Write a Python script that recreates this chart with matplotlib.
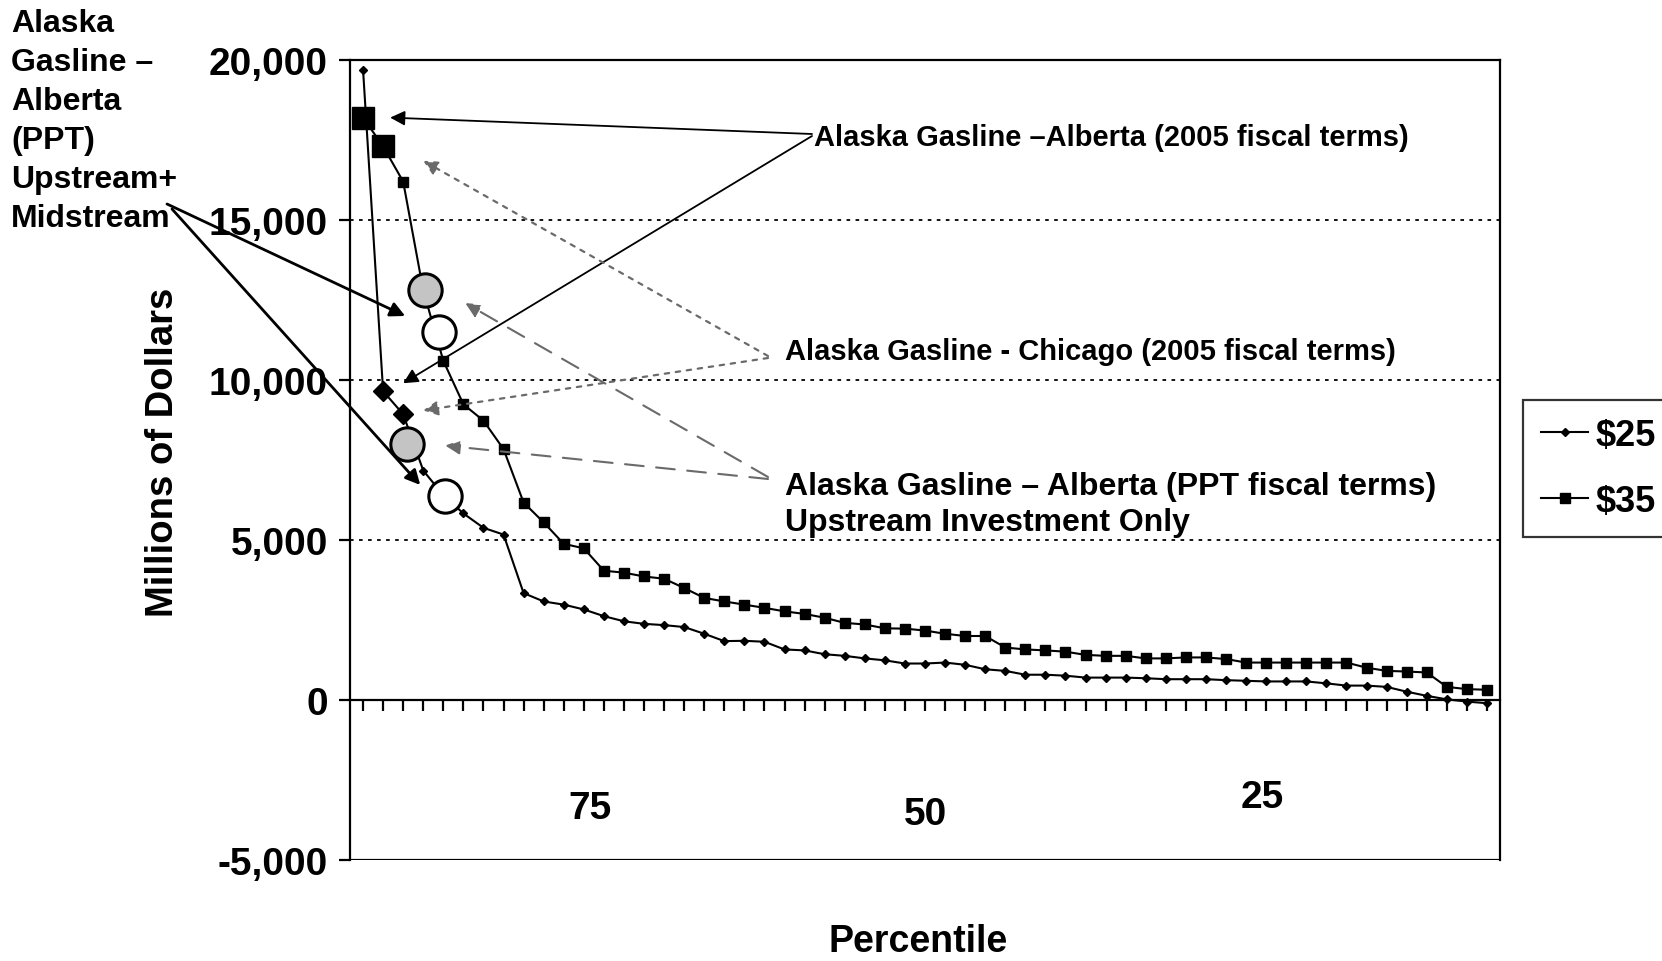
import matplotlib
matplotlib.use("Agg")
import matplotlib.pyplot as plt
import numpy as np

# ---------------- data ----------------
series_labels = ["$25", "$35"]
price25 = [19700, 9650, 8930, 7170, 6400, 5830, 5380, 5170, 3340, 3080,
           2980, 2830, 2620, 2460, 2380, 2340, 2280, 2070, 1840, 1850,
           1820, 1580, 1550, 1430, 1380, 1300, 1240, 1140, 1140, 1170,
           1100, 960, 910, 790, 790, 760, 700, 700, 700, 680,
           650, 650, 650, 620, 600, 580, 580, 580, 520, 450,
           450, 410, 260, 130, 20, -50, -100]
price35 = [18200, 17300, 16200, 12800, 10600, 9240, 8730, 7840, 6170, 5550,
           4880, 4740, 4040, 3980, 3860, 3790, 3500, 3190, 3080, 2980,
           2880, 2770, 2690, 2570, 2410, 2360, 2240, 2230, 2170, 2070,
           2000, 2000, 1640, 1580, 1550, 1510, 1410, 1380, 1380, 1300,
           1300, 1330, 1330, 1280, 1170, 1170, 1170, 1170, 1170, 1170,
           1010, 910, 890, 860, 410, 340, 320]
idx = np.arange(len(price25))

# highlighted cases
big_square_idx = [0, 1]            # on $35 series
big_diamond_idx = [1, 2]           # on $25 series
gray_circle_x = [3.1, 2.2]
gray_circle_y = [12800, 8000]
white_circle_x = [3.8, 4.1]
white_circle_y = [11500, 6380]

y_ticks = [-5000, 0, 5000, 10000, 15000, 20000]
y_ticklabels = ["-5,000", "0", "5,000", "10,000", "15,000", "20,000"]
pct_labels = ["75", "50", "25"]
pct_pos = [11.3, 28.0, 44.8]

label_2005_alberta = "Alaska Gasline \u2013Alberta (2005 fiscal terms)"
label_2005_chicago = "Alaska Gasline - Chicago (2005 fiscal terms)"
label_ppt_up = "Alaska Gasline \u2013 Alberta (PPT fiscal terms)\nUpstream Investment Only"
label_ppt_mid = "Alaska\nGasline \u2013\nAlberta\n(PPT)\nUpstream+\nMidstream"

# ---------------- style ----------------
NARROW = ["Liberation Sans Narrow", "Liberation Sans", "DejaVu Sans"]
ARIAL = ["Liberation Sans", "DejaVu Sans"]

W, H = 1662, 962
fig = plt.figure(figsize=(W / 100, H / 100), dpi=100)
fig.patch.set_facecolor("white")
ax = fig.add_axes([350 / W, 1 - 861 / H, 1150 / W, 800 / H])

ax.set_xlim(-0.65, 56.65)
ax.set_ylim(-5000, 20000)

# gridlines
for g in [5000, 10000, 15000]:
    ax.axhline(g, color="black", lw=1.3, ls=(0, (2, 3)), zorder=1)
ax.axhline(-5000, color="black", lw=1.6, zorder=2)

# series
ax.plot(idx, price25, color="black", lw=1.5, marker="D", ms=4.5,
        label=series_labels[0], zorder=3)
ax.plot(idx, price35, color="black", lw=1.5, marker="s", ms=6.5,
        label=series_labels[1], zorder=3)

# highlighted markers
ax.plot(big_square_idx, [price35[i] for i in big_square_idx], ls="none",
        marker="s", ms=16, color="black", zorder=5)
ax.plot(big_diamond_idx, [price25[i] for i in big_diamond_idx], ls="none",
        marker="D", ms=10, color="black", zorder=5)
ax.plot(gray_circle_x, gray_circle_y, ls="none", marker="o", ms=24,
        mfc="#c4c4c4", mec="black", mew=2.2, zorder=6)
ax.plot(white_circle_x, white_circle_y, ls="none", marker="o", ms=24,
        mfc="white", mec="black", mew=2.2, zorder=6)

# spines / ticks
for s in ax.spines.values():
    s.set_linewidth(1.6)
ax.spines["bottom"].set_position(("data", 0))
ax.set_xticks(idx)
ax.set_xticklabels([])
ax.tick_params(axis="x", direction="out", length=8, width=1.6)
ax.set_yticks(y_ticks)
ax.set_yticklabels(y_ticklabels, fontfamily=NARROW, fontweight="bold",
                   fontsize=28)
ax.tick_params(axis="y", direction="out", length=8, width=1.6, pad=8)

for lab, p, dy in zip(pct_labels, pct_pos, [-3390, -3560, -3030]):
    ax.text(p, dy, lab, ha="center", va="center", fontfamily=NARROW,
            fontweight="bold", fontsize=28)

fig.text(0.098, 0.530, "Millions of Dollars", rotation=90, ha="center",
         va="center", fontfamily=NARROW, fontweight="bold", fontsize=27.5)
fig.text(918 / W, 1 - 942 / H, "Percentile", ha="center", va="center",
         fontfamily=NARROW, fontweight="bold", fontsize=27)

# legend
leg = ax.legend(loc="upper left", bbox_to_anchor=(1523 / W, 1 - 401 / H),
                bbox_transform=fig.transFigure, prop=dict(family=NARROW,
                weight="bold", size=26), handlelength=1.3,
                handletextpad=0.2, borderaxespad=0, borderpad=0.5,
                labelspacing=0.85, fancybox=False, frameon=True)
leg.get_frame().set_edgecolor("black")
leg.get_frame().set_linewidth(1.6)

# annotation texts
fig.text(814 / W, 1 - 138 / H, label_2005_alberta, ha="left", va="center",
         fontfamily=ARIAL, fontweight="bold", fontsize=21)
fig.text(785 / W, 1 - 352 / H, label_2005_chicago, ha="left", va="center",
         fontfamily=ARIAL, fontweight="bold", fontsize=21)
fig.text(785 / W, 1 - 505 / H, label_ppt_up, ha="left", va="center",
         fontfamily=ARIAL, fontweight="bold", fontsize=23, linespacing=1.25)
fig.text(11 / W, 1 - 9 / H, label_ppt_mid, ha="left", va="top",
         fontfamily=ARIAL, fontweight="bold", fontsize=23, linespacing=1.39)


def arrow(tip, origin, **kw):
    props = dict(arrowstyle="-|>", shrinkA=0, shrinkB=0, mutation_scale=22)
    props.update(kw)
    ax.annotate("", xy=tip, xycoords="data",
                xytext=(origin[0] / W, 1 - origin[1] / H),
                textcoords="figure fraction", arrowprops=props, zorder=7)


# 2005 Alberta (solid)
arrow((1.35, 18200), (812, 135), color="black", lw=1.3)
arrow((2.0, 9900), (812, 137), color="black", lw=1.3)
# 2005 Chicago (dotted)
arrow((3.0, 16850), (768, 357), color="#6a6a6a", lw=1.6, ls=(0, (2, 3)))
arrow((3.0, 9050), (768, 359), color="#6a6a6a", lw=1.6, ls=(0, (2, 3)))
# PPT upstream only (dashed)
arrow((5.1, 12400), (768, 478), color="#6a6a6a", lw=1.5, ls=(0, (9, 6)))
arrow((4.1, 7950), (768, 480), color="#6a6a6a", lw=1.5, ls=(0, (9, 6)))
# PPT upstream + midstream (solid thick)
arrow((2.1, 12000), (167, 205), color="black", lw=2.0)
arrow((2.85, 6720), (172, 210), color="black", lw=2.0)

fig.savefig("out.png", dpi=100)
